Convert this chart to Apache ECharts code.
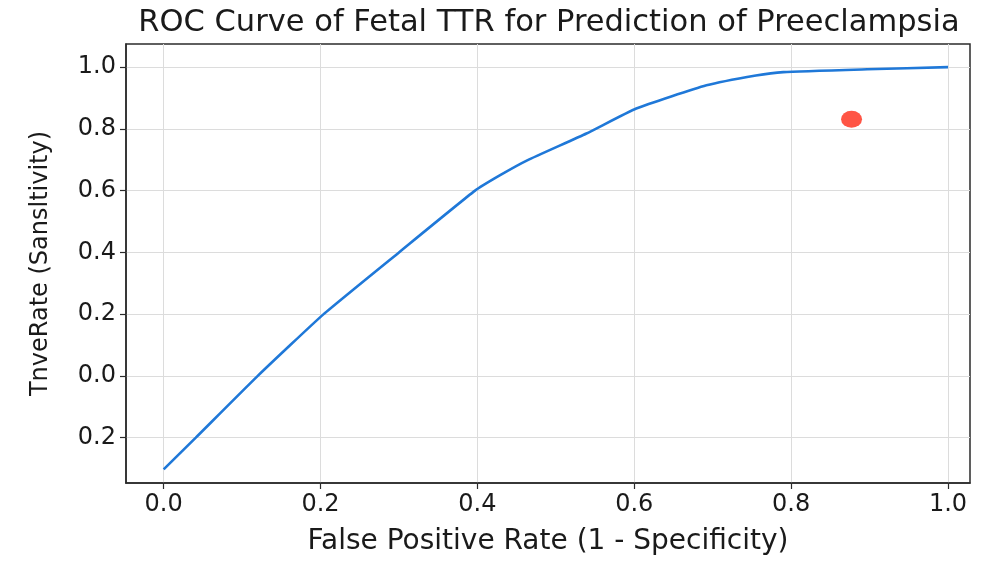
<!DOCTYPE html>
<html>
<head>
<meta charset="utf-8">
<script src="https://cdn.jsdelivr.net/npm/echarts@6/dist/echarts.min.js"></script>
<style>html,body{margin:0;padding:0;background:#fff}#c{width:984px;height:567px}</style>
</head>
<body>
<div id="c"></div>
<script>
const rocFpr = [0.0, 0.041, 0.12, 0.204, 0.30, 0.397, 0.429, 0.4635, 0.539, 0.6025, 0.692, 0.755, 0.79, 0.897, 1.0];
const rocTpr = [-0.303, -0.2, 0.0, 0.2, 0.4, 0.6, 0.65, 0.698, 0.785, 0.866, 0.941, 0.973, 0.984, 0.993, 1.0];
const pointX = [0.877];
const pointY = [0.831];
const xTickValues = [0.0, 0.2, 0.4, 0.6, 0.8, 1.0];
const xTickLabels = ['0.0', '0.2', '0.4', '0.6', '0.8', '1.0'];
const yTickValues = [-0.2, 0.0, 0.2, 0.4, 0.6, 0.8, 1.0];
const yTickLabels = ['0.2', '0.0', '0.2', '0.4', '0.6', '0.8', '1.0'];

const font = 'DejaVu Sans';
function lab(values, labels) {
  return function (v) {
    for (let i = 0; i < values.length; i++) {
      if (Math.abs(values[i] - v) < 1e-6) return labels[i];
    }
    return '';
  };
}

const chart = echarts.init(document.getElementById('c'), null, {renderer: 'canvas'});
chart.setOption({
  backgroundColor: '#ffffff',
  animation: false,
  title: {
    text: 'ROC Curve of Fetal TTR for Prediction of Preeclampsia',
    left: 544, top: 3, textAlign: 'center',
    textStyle: {fontFamily: font, fontSize: 30.5, fontWeight: 'normal', color: '#1a1a1a'}
  },
  grid: {
    left: 126, right: 14, top: 44, bottom: 84,
    show: true, borderColor: '#2b2b2b', borderWidth: 1.5, backgroundColor: 'transparent'
  },
  xAxis: {
    type: 'value', min: -0.048, max: 1.028,
    name: 'False Positive Rate (1 - Specificity)', nameLocation: 'middle', nameGap: 45,
    nameTextStyle: {fontFamily: font, fontSize: 28, color: '#1a1a1a'},
    axisLine: {show: true, onZero: false, lineStyle: {color: '#2b2b2b', width: 1.5}},
    axisTick: {show: true, length: 6, customValues: xTickValues, lineStyle: {color: '#2b2b2b', width: 1.2}},
    axisLabel: {customValues: xTickValues, formatter: lab(xTickValues, xTickLabels), margin: 10,
      fontFamily: font, fontSize: 24, color: '#1a1a1a', showMinLabel: true, showMaxLabel: true},
    splitLine: {show: true, lineStyle: {color: '#dcdcdc', width: 1}}
  },
  yAxis: {
    type: 'value', min: -0.347, max: 1.075,
    name: 'TnveRate (Sansltivity)', nameLocation: 'middle', nameGap: 73, nameRotate: 90,
    nameTextStyle: {fontFamily: font, fontSize: 24, color: '#1a1a1a'},
    axisLine: {show: true, onZero: false, lineStyle: {color: '#2b2b2b', width: 1.5}},
    axisTick: {show: true, length: 6, customValues: yTickValues, lineStyle: {color: '#2b2b2b', width: 1.2}},
    axisLabel: {customValues: yTickValues, formatter: lab(yTickValues, yTickLabels), margin: 10,
      fontFamily: font, fontSize: 24, color: '#1a1a1a', showMinLabel: true, showMaxLabel: true},
    splitLine: {show: true, lineStyle: {color: '#dcdcdc', width: 1}}
  },
  series: [
    {
      type: 'line',
      data: rocFpr.map((x, i) => [x, rocTpr[i]]),
      showSymbol: false, symbol: 'none',
      smooth: 0.15,
      lineStyle: {color: '#1f78d8', width: 2.6},
      z: 3
    },
    {
      type: 'scatter',
      data: pointX.map((x, i) => [x, pointY[i]]),
      symbol: 'circle', symbolSize: [21, 17],
      itemStyle: {color: '#ff2a17'},
      z: 4
    }
  ]
});
</script>
</body>
</html>
